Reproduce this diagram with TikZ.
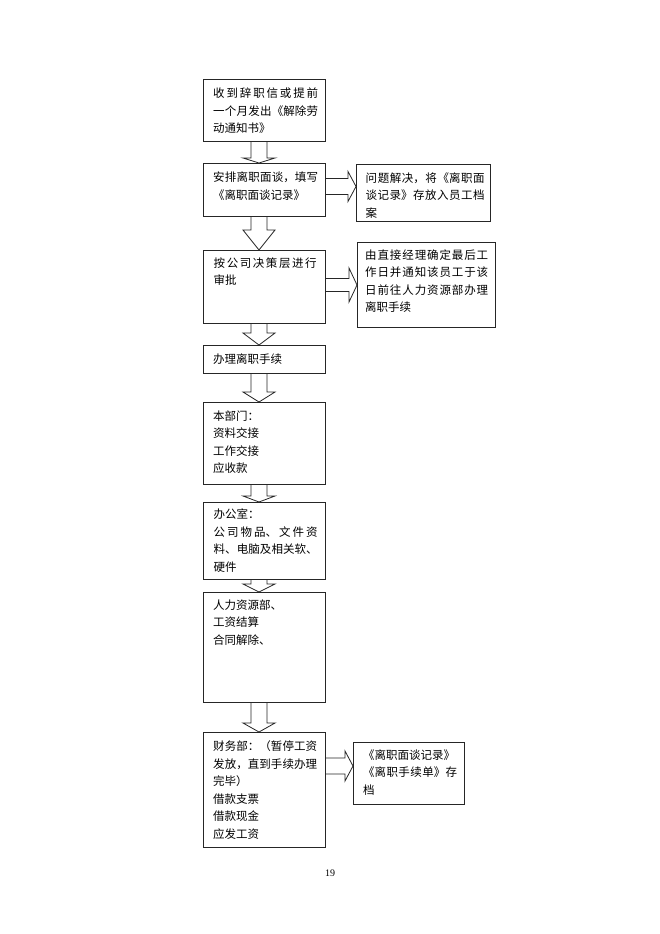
\documentclass[tikz,border=0pt]{standalone}
\usepackage{fontspec}
\setmainfont{Liberation Serif}
\newfontfamily\cjk{Noto Sans CJK SC}
\usetikzlibrary{calc}
\XeTeXlinebreaklocale "zh"
\XeTeXlinebreakskip=0pt plus 6pt
\tikzset{
  box/.style={draw=black!85, line width=0.8pt, fill=white, anchor=north west, inner sep=0pt, outer sep=0pt},
  txt/.style={font=\cjk\fontsize{11.5}{17.5}\selectfont, align=justify, inner sep=0pt, anchor=north west},
  arr/.style={draw=black!85, line width=0.8pt, line join=miter}
}
\newcommand{\dnarr}[3]{\draw[arr] let \p1=(#1.south), \p2=(#2.north) in
  (\x1-13pt,\y1) -- (\x1-13pt,\y2+#3pt) -- (\x1-21pt,\y2+#3pt) -- (\x1-5pt,\y2)
  -- (\x1+11pt,\y2+#3pt) -- (\x1+3pt,\y2+#3pt) -- (\x1+3pt,\y1);}
\newcommand{\rtarr}[5]{\draw[arr] let \p1=(#1.east), \p2=(#2.west) in
  (\x1,-#3pt+#4pt) -- (\x2-8pt,-#3pt+#4pt) -- (\x2-8pt,-#3pt+#5pt) -- (\x2,-#3pt)
  -- (\x2-8pt,-#3pt-#5pt) -- (\x2-8pt,-#3pt-#4pt) -- (\x1,-#3pt-#4pt);}
\begin{document}
\begin{tikzpicture}[x=1pt,y=-1pt]
\useasboundingbox[fill=white] (0,0) rectangle (660,934);
% boxes
\node[box, minimum width=122pt, minimum height=62pt]  (b1)  at (203,79)  {};
\node[box, minimum width=122pt, minimum height=53pt]  (b2)  at (203,163) {};
\node[box, minimum width=134pt, minimum height=57pt]  (b3)  at (356,164) {};
\node[box, minimum width=122pt, minimum height=73pt]  (b4)  at (203,250) {};
\node[box, minimum width=138pt, minimum height=85pt]  (b5)  at (357,242) {};
\node[box, minimum width=122pt, minimum height=28pt]  (b6)  at (203,345) {};
\node[box, minimum width=122pt, minimum height=82pt]  (b7)  at (203,402) {};
\node[box, minimum width=122pt, minimum height=77pt]  (b8)  at (203,502) {};
\node[box, minimum width=122pt, minimum height=110pt] (b9)  at (203,592) {};
\node[box, minimum width=122pt, minimum height=115pt] (b10) at (203,732) {};
\node[box, minimum width=111pt, minimum height=62pt]  (b11) at (353,742) {};
% texts
\node[txt, text width=105pt] (t1) at ($(b1.north west)+(10,9)$) {收到辞职信或提前\linebreak 一个月发出《解除劳\linebreak 动通知书》};
\node[txt, text width=105pt] (t2) at ($(b2.north west)+(10,9)$) {安排离职面谈，填写\linebreak 《离职面谈记录》};
\node[txt, text width=119pt] (t3) at ($(b3.north west)+(9.5,8.5)$) {问题解决，将《离职面\linebreak 谈记录》存放入员工档\linebreak 案};
\node[txt, text width=103pt] (t4) at ($(b4.north west)+(10.5,7.5)$) {按公司决策层进行\linebreak 审批};
\node[txt, text width=123pt] (t5) at ($(b5.north west)+(8,7.5)$) {由直接经理确定最后工\linebreak 作日并通知该员工于该\linebreak 日前往人力资源部办理\linebreak 离职手续};
\node[txt, text width=105pt] (t6) at ($(b6.north west)+(10,8.5)$) {办理离职手续};
\node[txt, text width=105pt] (t7) at ($(b7.north west)+(10,8.5)$) {本部门：\\资料交接\\工作交接\\应收款};
\node[txt, text width=104pt] (t8) at ($(b8.north west)+(10.5,7)$) {办公室：\\公司物品、文件资\linebreak 料、电脑及相关软、\linebreak 硬件};
\node[txt, text width=105pt] (t9) at ($(b9.north west)+(10,7.5)$) {人力资源部、\\工资结算\\合同解除、};
\node[txt, text width=104pt] (t10) at ($(b10.north west)+(10,8.5)$) {财务部：（暂停工资\linebreak 发放，直到手续办理\linebreak 完毕）\\借款支票\\借款现金\\应发工资};
\node[txt, text width=94pt] (t11) at ($(b11.north west)+(10,7.5)$) {《离职面谈记录》\\《离职手续单》存\linebreak 档};
% down arrows
\dnarr{b1}{b2}{5}
\dnarr{b2}{b4}{20}
\dnarr{b4}{b6}{12}
\dnarr{b6}{b7}{10}
\dnarr{b7}{b8}{6}
\dnarr{b8}{b9}{8}
\dnarr{b9}{b10}{9}
% right arrows
\rtarr{b2}{b3}{186.5}{8}{15}
\rtarr{b4}{b5}{285}{6.5}{17}
\rtarr{b10}{b11}{766}{8}{15}
% page number
\node[font=\fontsize{10}{12}\selectfont, inner sep=0pt] (pg) at (330,873) {19};
\end{tikzpicture}
\end{document}
